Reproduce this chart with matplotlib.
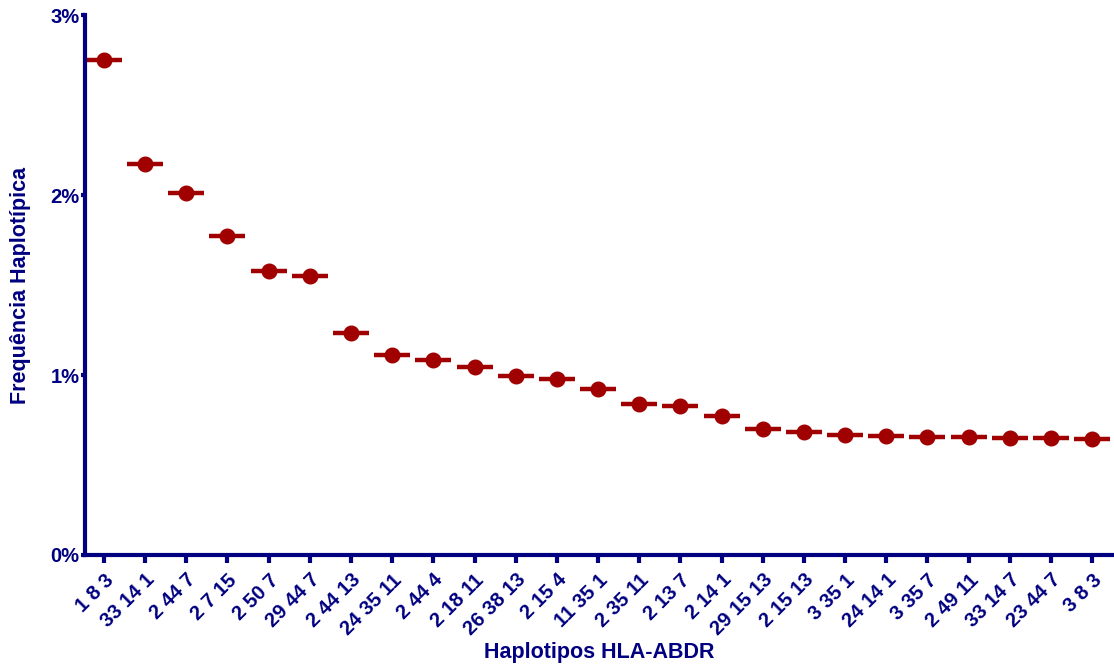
import matplotlib
matplotlib.use("Agg")
import matplotlib.pyplot as plt
from matplotlib.ticker import FuncFormatter

haplotipos = ["1 8 3", "33 14 1", "2 44 7", "2 7 15", "2 50 7", "29 44 7", "2 44 13",
              "24 35 11", "2 44 4", "2 18 11", "26 38 13", "2 15 4", "11 35 1", "2 35 11",
              "2 13 7", "2 14 1", "29 15 13", "2 15 13", "3 35 1", "24 14 1", "3 35 7",
              "2 49 11", "33 14 7", "23 44 7", "3 8 3"]
frequencia = [2.75, 2.17, 2.01, 1.77, 1.58, 1.55, 1.235, 1.11, 1.083, 1.045, 0.995,
              0.98, 0.922, 0.84, 0.83, 0.772, 0.70, 0.685, 0.668, 0.66, 0.658,
              0.658, 0.652, 0.65, 0.645]

navy = "#000080"
red = "#A00000"
plt.rcParams["font.family"] = ["Liberation Sans", "DejaVu Sans"]

fig = plt.figure(figsize=(11.14, 6.67), dpi=100)
ax = fig.add_axes([85 / 1114, 1 - 555 / 667, 1 - 85 / 1114, 540 / 667])

x = list(range(len(haplotipos)))
ax.plot(x, frequencia, linestyle="none", marker="_", markersize=26,
        markeredgewidth=3.2, color=red, solid_capstyle="round")
ax.plot(x, frequencia, linestyle="none", marker="o", markersize=10.5, color=red)

ax.set_xlim(-0.46, 24.53)
ax.set_ylim(0, 3)
ax.set_yticks([0, 1, 2, 3])
ax.yaxis.set_major_formatter(FuncFormatter(lambda v, p: f"{v:.0f}%"))
ax.set_xticks(x)
ax.set_xticklabels(haplotipos, rotation=45, ha="right", rotation_mode="anchor")

for s in ["top", "right"]:
    ax.spines[s].set_visible(False)
for s in ["left", "bottom"]:
    ax.spines[s].set_color(navy)
    ax.spines[s].set_linewidth(3)

ax.tick_params(axis="both", colors=navy, width=3, labelsize=14.5)
ax.tick_params(axis="x", length=6, pad=5)
ax.tick_params(axis="y", length=3, pad=1)
for lbl in ax.get_xticklabels() + ax.get_yticklabels():
    lbl.set_fontweight("bold")

ax.set_xlabel("Haplotipos HLA-ABDR", fontsize=15.5, fontweight="bold", color=navy, labelpad=2)
ax.set_ylabel("Frequência Haplotípica", fontsize=15.5, fontweight="bold", color=navy, labelpad=14)

fig.savefig("out.png", dpi=100)
